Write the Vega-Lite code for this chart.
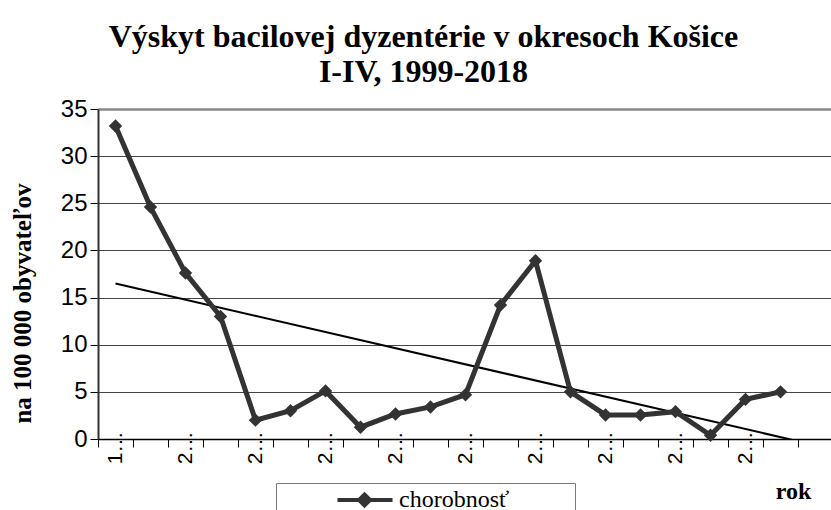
{
  "$schema": "https://vega.github.io/schema/vega-lite/v6.json",
  "width": 735,
  "height": 330,
  "autosize": {"type": "none"},
  "padding": {"left": 98, "top": 109, "right": 0, "bottom": 71},
  "background": "white",
  "title": {
    "text": ["Výskyt bacilovej dyzentérie v okresoch Košice", "I-IV, 1999-2018"],
    "font": "Liberation Serif",
    "fontSize": 32,
    "fontWeight": "bold",
    "color": "black",
    "anchor": "middle",
    "frame": "group",
    "dx": -42,
    "lineHeight": 35,
    "offset": 8
  },
  "config": {
    "view": {"stroke": null},
    "legend": {
      "labelFont": "Liberation Serif",
      "labelFontSize": 24,
      "labelColor": "black",
      "labelLimit": 400
    }
  },
  "layer": [
    {
      "data": {"values": [
        {"year": 1999, "trend": 16.5},
        {"year": 2019, "trend": -0.66}
      ]},
      "mark": {"type": "line", "color": "black", "strokeWidth": 2, "clip": true},
      "encoding": {
        "x": {"field": "year", "type": "ordinal"},
        "y": {"field": "trend", "type": "quantitative"}
      }
    },
    {
      "data": {"values": [
        {"year": 1999, "value": 33.2},
        {"year": 2000, "value": 24.6},
        {"year": 2001, "value": 17.6},
        {"year": 2002, "value": 13.0},
        {"year": 2003, "value": 2.0},
        {"year": 2004, "value": 3.0},
        {"year": 2005, "value": 5.1},
        {"year": 2006, "value": 1.25},
        {"year": 2007, "value": 2.65},
        {"year": 2008, "value": 3.4},
        {"year": 2009, "value": 4.7},
        {"year": 2010, "value": 14.2},
        {"year": 2011, "value": 18.9},
        {"year": 2012, "value": 5.0},
        {"year": 2013, "value": 2.55},
        {"year": 2014, "value": 2.55},
        {"year": 2015, "value": 2.9},
        {"year": 2016, "value": 0.4},
        {"year": 2017, "value": 4.2},
        {"year": 2018, "value": 5.0}
      ]},
      "encoding": {
        "x": {
          "field": "year",
          "type": "ordinal",
          "scale": {
            "type": "band",
            "domain": [1999, 2000, 2001, 2002, 2003, 2004, 2005, 2006, 2007, 2008, 2009, 2010, 2011, 2012, 2013, 2014, 2015, 2016, 2017, 2018, 2019],
            "paddingInner": 0,
            "paddingOuter": 0
          },
          "axis": {
            "title": "rok",
            "titleFont": "Liberation Serif",
            "titleFontSize": 24,
            "titleFontWeight": "bold",
            "titleColor": "black",
            "titleX": 695,
            "titleY": 59,
            "titleAlign": "center",
            "titleBaseline": "alphabetic",
            "labelExpr": "(datum.value - 1999) % 2 == 0 && datum.value < 2019 ? slice(datum.label, 0, 1) + '…' : ''",
            "labelAngle": -90,
            "labelFont": "Liberation Sans",
            "labelFontSize": 21,
            "labelColor": "black",
            "labelPadding": -16,
            "labelOverlap": false,
            "tickSize": 8,
            "tickColor": "black",
            "tickBand": "extent",
            "domainColor": "black",
            "domainWidth": 1.5,
            "grid": false
          }
        },
        "y": {
          "field": "value",
          "type": "quantitative",
          "scale": {"domain": [0, 35], "nice": false},
          "axis": {
            "values": [0, 5, 10, 15, 20, 25, 30, 35],
            "title": "na 100 000 obyvateľov",
            "titleFont": "Liberation Serif",
            "titleFontSize": 25,
            "titleFontWeight": "bold",
            "titleColor": "black",
            "titleX": -76,
            "titleY": 194,
            "titleAlign": "center",
            "titleBaseline": "middle",
            "labelFont": "Liberation Sans",
            "labelFontSize": 24,
            "labelColor": "black",
            "labelPadding": 3,
            "tickSize": 8,
            "tickColor": "black",
            "domainColor": "#333",
            "domainWidth": 2,
            "grid": true,
            "gridColor": {"condition": {"test": "datum.value == 35", "value": "#888"}, "value": "#444"},
            "gridWidth": {"condition": {"test": "datum.value == 35", "value": 2.5}, "value": 1}
          }
        },
        "color": {
          "datum": "chorobnosť",
          "scale": {"range": ["#333333"]},
          "legend": {
            "orient": "none",
            "legendX": 178,
            "legendY": 374,
            "title": null,
            "strokeColor": "#7a7a7a",
            "padding": 5,
            "symbolType": "M 4.45 0 H 9.95 M 7.15 -0.55 L 7.7 0 L 7.15 0.55 L 6.6 0 Z",
            "symbolSize": 400,
            "symbolStrokeWidth": 4,
            "symbolStrokeColor": "#333333",
            "symbolFillColor": "#333333",
            "labelFont": "Liberation Serif",
            "labelFontSize": 24,
            "labelColor": "black",
            "labelOffset": 94,
            "labelLimit": 400,
            "labelExpr": "datum.label + '\u00a0\u00a0\u00a0\u00a0\u00a0\u00a0\u00a0\u00a0\u00a0\u00a0\u200b'"
          }
        }
      },
      "layer": [
        {"mark": {"type": "line", "strokeWidth": 5}},
        {"mark": {"type": "point", "shape": "diamond", "filled": true, "size": 180, "opacity": 1}}
      ]
    }
  ]
}
